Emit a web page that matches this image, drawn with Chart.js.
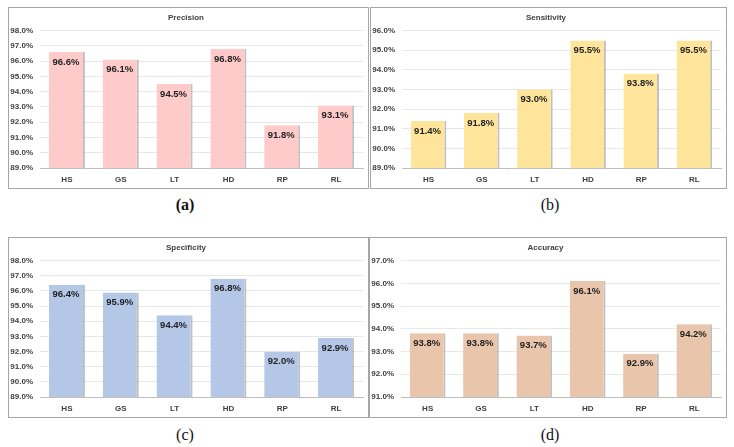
<!DOCTYPE html>
<html>
<head>
<meta charset="utf-8">
<script src="https://cdn.jsdelivr.net/npm/chart.js@4.4.1/dist/chart.umd.min.js"></script>
<style>
  body { margin: 0; width: 734px; height: 447px; background: #fff; position: relative; overflow: hidden; }
  .box { position: absolute; border: 1px solid #a6a6a6; box-sizing: border-box; }
  .box canvas { display: block; }
  .cap { position: absolute; font-family: 'Liberation Serif', serif; font-size: 16px; color: #111; transform: translateX(-50%); }
</style>
</head>
<body>
<div class="box" style="left:8px;top:7px;width:361px;height:182px"><canvas id="chartA" width="359" height="180"></canvas></div>
<div class="box" style="left:370px;top:7px;width:357px;height:182px"><canvas id="chartB" width="355" height="180"></canvas></div>
<div class="box" style="left:8px;top:237px;width:361px;height:181px"><canvas id="chartC" width="359" height="179"></canvas></div>
<div class="box" style="left:369px;top:237px;width:358px;height:181px"><canvas id="chartD" width="356" height="179"></canvas></div>
<div class="cap" style="left:185px;top:196px;font-weight:bold">(a)</div>
<div class="cap" style="left:550px;top:196px">(b)</div>
<div class="cap" style="left:185px;top:426px">(c)</div>
<div class="cap" style="left:550px;top:426px">(d)</div>

<script>
// donnees
const categories = ['HS', 'GS', 'LT', 'HD', 'RP', 'RL'];
const precision = [96.6, 96.1, 94.5, 96.8, 91.8, 93.1];
const sensitivity = [91.4, 91.8, 93.0, 95.5, 93.8, 95.5];
const specificity = [96.4, 95.9, 94.4, 96.8, 92.0, 92.9];
const accuracy = [93.8, 93.8, 93.7, 96.1, 92.9, 94.2];

// bornes des axes y [min, max]
const precisionRange = [89, 98];
const sensitivityRange = [89, 96];
const specificityRange = [89, 98];
const accuracyRange = [91, 97];

const FONT = "'Liberation Sans', Arial, sans-serif";

// etiquettes de valeur dans le haut des barres
const valueLabels = {
  id: 'valueLabels',
  afterDatasetsDraw(chart) {
    const ctx = chart.ctx;
    const meta = chart.getDatasetMeta(0);
    const data = chart.data.datasets[0].data;
    ctx.save();
    ctx.font = "bold 9.5px " + FONT;
    ctx.fillStyle = '#1f1f1f';
    ctx.textAlign = 'center';
    ctx.textBaseline = 'middle';
    meta.data.forEach((bar, i) => {
      ctx.fillText(data[i].toFixed(1) + '%', bar.x - 1, bar.y + 10);
    });
    ctx.restore();
  }
};

function makeChart(id, title, values, range, color) {
  return new Chart(document.getElementById(id), {
    type: 'bar',
    data: {
      labels: categories,
      datasets: [{
        data: values,
        backgroundColor: color,
        borderColor: 'rgba(140,140,140,0.55)',
        borderWidth: { top: 0, right: 2, bottom: 0, left: 0 },
        borderSkipped: false,
        barPercentage: 0.67,
        categoryPercentage: 1
      }]
    },
    options: {
      responsive: false,
      animation: false,
      devicePixelRatio: 1,
      layout: { padding: { left: 0, right: 5, top: 0, bottom: 0 } },
      plugins: {
        legend: { display: false },
        tooltip: { enabled: false },
        title: {
          display: true,
          text: title,
          color: '#404040',
          font: { family: FONT, size: 8, weight: 'bold' },
          padding: { top: 5, bottom: 8 }
        }
      },
      scales: {
        x: {
          afterFit: s => { s.height = 20; },
          grid: { display: false, drawTicks: false },
          border: { color: '#bfbfbf' },
          ticks: { color: '#404040', font: { family: FONT, size: 8, weight: 'bold' }, padding: 7 }
        },
        y: {
          min: range[0],
          max: range[1],
          afterFit: s => { s.width = 31; },
          border: { display: false },
          grid: { color: '#e8e8e8', drawTicks: false },
          ticks: {
            stepSize: 1,
            padding: 7,
            color: '#404040',
            font: { family: FONT, size: 8, weight: 'bold' },
            callback: v => v.toFixed(1) + '%'
          }
        }
      }
    },
    plugins: [valueLabels]
  });
}

makeChart('chartA', 'Precision', precision, precisionRange, '#ffcaca');
makeChart('chartB', 'Sensitivity', sensitivity, sensitivityRange, '#ffe59c');
makeChart('chartC', 'Specificity', specificity, specificityRange, '#b4c7e7');
makeChart('chartD', 'Accuracy', accuracy, accuracyRange, '#e8c5ab');
</script>
</body>
</html>
